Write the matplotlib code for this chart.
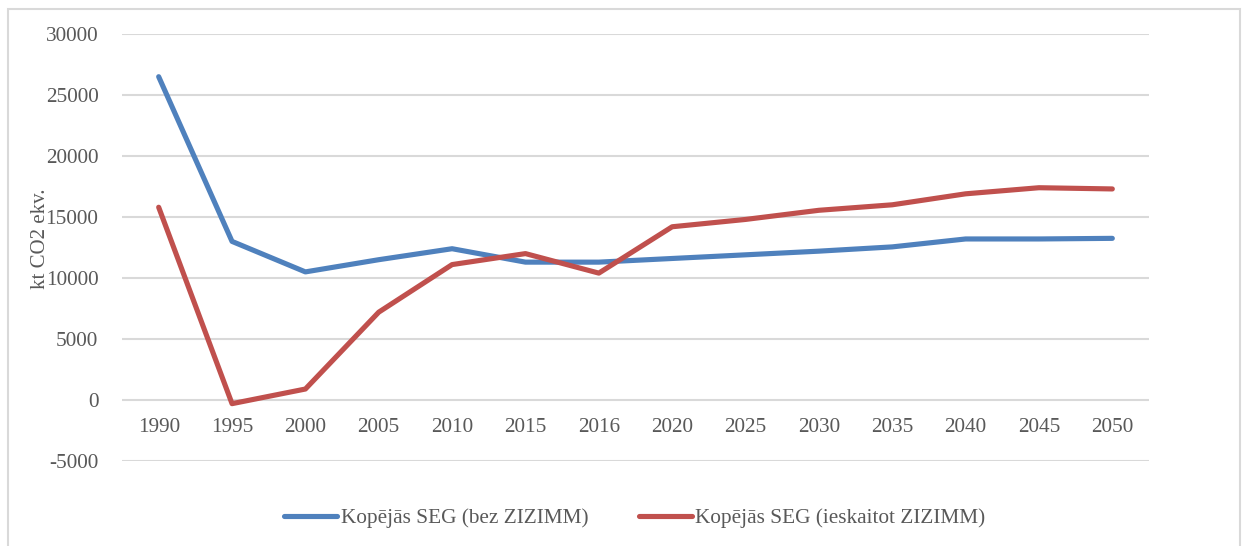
import matplotlib
matplotlib.use("Agg")
import matplotlib.pyplot as plt
from matplotlib.patches import Rectangle

plt.rcParams['font.family'] = ['Liberation Serif', 'DejaVu Serif']

years = ["1990", "1995", "2000", "2005", "2010", "2015", "2016", "2020",
         "2025", "2030", "2035", "2040", "2045", "2050"]
bez_zizimm = [26500, 13000, 10500, 11500, 12400, 11300, 11300, 11600,
              11900, 12200, 12550, 13200, 13200, 13250]
ieskaitot_zizimm = [15800, -300, 900, 7200, 11100, 12000, 10400, 14200,
                    14800, 15550, 16000, 16900, 17400, 17300]
series_names = ["Kopējās SEG (bez ZIZIMM)", "Kopējās SEG (ieskaitot ZIZIMM)"]
y_ticks = [-5000, 0, 5000, 10000, 15000, 20000, 25000, 30000]

W, H = 1247, 546
fig = plt.figure(figsize=(W / 100, H / 100), dpi=100)
ax = fig.add_axes([122 / W, 1 - 461 / H, (1149 - 122) / W, (461 - 34) / H])

# chart frame like the Excel chart area
fig.patches.append(Rectangle((7.5 / W, -0.05), (1240 - 7.5) / W, 1.05 - 9.5 / H,
                             transform=fig.transFigure, fill=False,
                             edgecolor='#d9d9d9', linewidth=1.5))

x = list(range(len(years)))
ax.plot(x, bez_zizimm, color='#4f81bd', lw=3.7, solid_capstyle='round',
        solid_joinstyle='round', label=series_names[0])
ax.plot(x, ieskaitot_zizimm, color='#c0504d', lw=3.7, solid_capstyle='round',
        solid_joinstyle='round', label=series_names[1])

ax.set_xlim(-0.5, len(years) - 0.5)
ax.set_ylim(-5000, 30000)
ax.set_yticks(y_ticks)
ax.set_yticklabels([str(v) for v in y_ticks])
ax.set_xticks(x)
ax.set_xticklabels(years)
ax.grid(axis='y', color='#d9d9d9', linewidth=1.5)
ax.set_axisbelow(True)

for s in ['top', 'right', 'left']:
    ax.spines[s].set_visible(False)
ax.spines['bottom'].set_position(('data', 0))
ax.spines['bottom'].set_visible(False)

ax.tick_params(axis='x', length=0, pad=13, labelsize=15.3, labelcolor='#595959')
ax.tick_params(axis='y', length=0, pad=17, labelsize=15.3, labelcolor='#595959')
ax.set_ylabel("kt CO2 ekv.", fontsize=15, color='#595959')
ax.yaxis.set_label_coords(-(122 - 50) / (1149 - 122), 0.52)

ax.legend(loc='center', bbox_to_anchor=(635 / W, 1 - 518 / H),
          bbox_transform=fig.transFigure, ncol=2, frameon=False,
          fontsize=15.3, handlelength=2.5, handletextpad=0.15, columnspacing=2.4,
          labelcolor='#595959')

fig.savefig("out.png", dpi=100)
